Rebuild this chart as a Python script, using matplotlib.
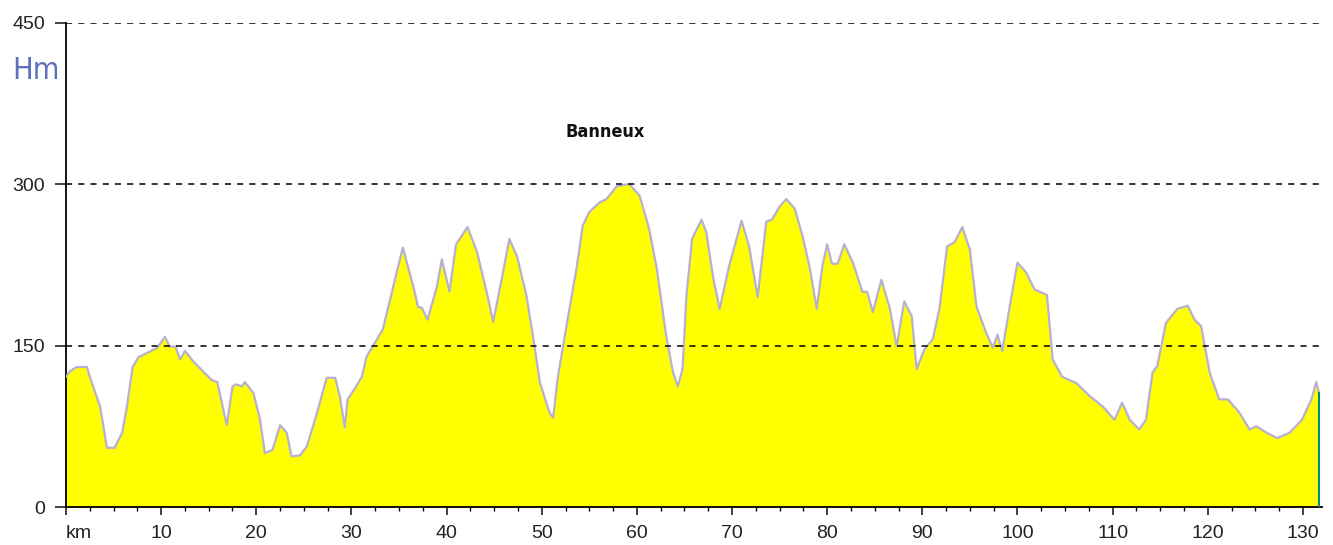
import matplotlib
matplotlib.use("Agg")
import matplotlib.pyplot as plt

# elevation profile (km, metres)
km = [0.0, 0.4, 1.1, 2.2, 2.5, 3.6, 4.3, 5.1, 5.9, 6.4, 7.0, 7.6, 8.5, 9.6,
      10.4, 10.9, 11.5, 12.0, 12.5, 13.4, 14.4, 15.3, 15.9, 16.9, 17.5, 17.9,
      18.5, 18.8, 19.7, 20.4, 20.9, 21.7, 22.5, 23.2, 23.7, 24.6, 25.3, 26.4,
      27.4, 28.3, 28.8, 29.3, 29.6, 30.5, 31.1, 31.6, 32.5, 33.3, 34.4, 35.4,
      36.5, 37.0, 37.4, 38.0, 39.0, 39.5, 40.3, 41.0, 42.2, 43.2, 44.2, 44.9,
      45.8, 46.6, 47.4, 48.4, 49.1, 49.8, 50.8, 51.2, 51.7, 52.6, 53.7, 54.3,
      55.0, 56.1, 56.8, 57.9, 59.2, 60.3, 61.3, 62.1, 63.1, 63.8, 64.3, 64.8,
      65.2, 65.8, 66.8, 67.3, 68.0, 68.7, 69.7, 71.0, 71.8, 72.7, 73.6, 74.2,
      75.0, 75.7, 76.6, 77.4, 78.2, 78.9, 79.5, 80.0, 80.5, 81.1, 81.8, 82.7,
      83.7, 84.2, 84.8, 85.7, 86.6, 87.3, 88.1, 88.9, 89.4, 90.2, 91.1, 91.8,
      92.6, 93.4, 94.2, 95.0, 95.7, 96.7, 97.4, 97.9, 98.4, 99.2, 100.0, 100.9,
      101.8, 103.1, 103.7, 104.7, 106.2, 107.6, 109.0, 110.2, 111.0, 111.8,
      112.8, 113.5, 114.2, 114.7, 115.6, 116.8, 117.9, 118.6, 119.3, 120.2,
      121.2, 122.1, 123.3, 124.4, 125.1, 126.2, 127.3, 128.6, 129.9, 130.9,
      131.4, 131.7]
elev = [121, 126, 130, 130, 121, 93, 55, 55, 69, 93, 130, 139, 143, 148,
        158, 149, 149, 137, 145, 135, 126, 118, 116, 76, 112, 114,
        112, 116, 106, 81, 50, 53, 76, 69, 47, 48, 56, 88,
        120, 120, 102, 74, 100, 112, 121, 140, 153, 165, 205, 241,
        205, 186, 185, 174, 205, 230, 200, 244, 260, 237, 200, 172,
        212, 249, 233, 196, 158, 116, 88, 83, 121, 168, 224, 261,
        274, 283, 286, 298, 300, 289, 258, 221, 158, 125, 112, 128,
        195, 249, 267, 255, 214, 184, 224, 266, 242, 195, 265, 267,
        279, 286, 277, 252, 221, 184, 224, 244, 226, 226, 244, 227,
        200, 200, 181, 211, 184, 149, 191, 177, 128, 146, 156, 184,
        242, 246, 260, 239, 186, 162, 148, 160, 145, 187, 227, 218,
        202, 197, 137, 121, 115, 103, 93, 81, 97, 81,
        72, 81, 125, 131, 171, 184, 187, 174, 168, 125,
        100, 100, 88, 72, 75, 69, 64, 69, 81, 100,
        116, 106]

y_ticks = [0, 150, 300, 450]
x_ticks = list(range(0, 131, 10))
x_labels = ["km"] + [str(t) for t in x_ticks[1:]]
place_name = "Banneux"
place_km = 56.7
place_elev = 348

plt.rcParams['font.family'] = ['Liberation Sans', 'DejaVu Sans']

fig = plt.figure(figsize=(13.33, 5.45), dpi=100)
ax = fig.add_axes([0.0495, 0.0697, 0.9422, 0.889])

ax.fill_between(km, elev, 0, color="#FFFF00", linewidth=0, zorder=2)
ax.plot(km, elev, color="#B8B0D0", linewidth=1.6, zorder=3)
# green closing line at the end of the route
ax.plot([km[-1], km[-1]], [0, elev[-1]], color="#009070", linewidth=1.5, zorder=4)

for t in y_ticks[1:]:
    ax.axhline(t, color="black", linestyle=(0, (4, 4)), linewidth=1.1, zorder=5)

for side in ["top", "right"]:
    ax.spines[side].set_visible(False)
ax.spines["left"].set_linewidth(1.3)
ax.spines["bottom"].set_linewidth(1.3)

ax.set_yticks(y_ticks)
ax.set_yticklabels([str(t) for t in y_ticks])
ax.set_xticks(x_ticks)
ax.set_xticklabels(x_labels)
ax.set_xticks([t + 2.5 * i for t in x_ticks for i in (1, 2, 3)], minor=True)
ax.tick_params(axis="y", length=8, width=1.2, pad=7, labelsize=14, colors="#222222")
ax.tick_params(axis="x", which="major", length=6, width=1.2, pad=7, labelsize=14, colors="#222222")
ax.tick_params(axis="x", which="minor", length=3, width=1.0)
ax.get_xticklabels()[0].set_ha("left")

# limits last, the minor ticks would widen them otherwise
ax.set_xlim(0, 132)
ax.set_ylim(0, 450)

fig.text(0.009, 0.855, "Hm", color="#6070C0", fontsize=22,
         family="DejaVu Sans", fontstretch="condensed", fontweight="light")
ax.text(place_km, place_elev, place_name, ha="center", va="center", fontsize=13,
        fontweight="bold", family="DejaVu Sans", fontstretch="condensed", color="#111111")

fig.savefig("out.png", dpi=100)
